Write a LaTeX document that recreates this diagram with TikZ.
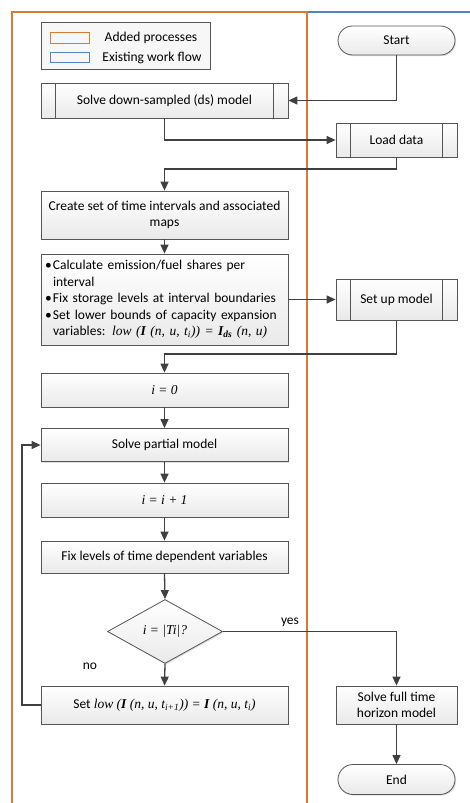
\documentclass[tikz,border=0pt]{standalone}
\usepackage{fontspec}
\setmainfont{Carlito}
\newfontfamily\tms{Liberation Serif}
\usetikzlibrary{arrows.meta,shapes.geometric,shapes.misc,shadows}
\definecolor{addorange}{RGB}{214,124,52}
\definecolor{flowblue}{RGB}{84,132,196}
\definecolor{edgegray}{RGB}{85,85,85}
\definecolor{linegray}{RGB}{64,64,64}
\newcommand{\mth}[1]{{\tms\itshape #1}}
\begin{document}
\begin{tikzpicture}[x=1pt,y=-1pt,
  font=\fontsize{13.5}{16.5}\selectfont,
  boxbase/.style={draw=edgegray, line width=0.8pt, top color=white, bottom color=gray!17,
    drop shadow={opacity=0.25, shadow xshift=1.2pt, shadow yshift=-1.2pt}},
  widebox/.style={boxbase, rectangle, minimum width=247pt, inner sep=2pt, align=center},
  sidebox/.style={boxbase, rectangle, minimum width=121pt, inner sep=2pt, align=center},
  termbox/.style={boxbase, rounded rectangle, minimum width=121pt, minimum height=29pt, inner sep=2pt},
  decbox/.style={boxbase, diamond, minimum width=115pt, minimum height=64pt, inner sep=0pt, aspect=1.8},
  conn/.style={draw=linegray, line width=1.3pt, -{Triangle[length=9pt,width=8pt]}},
  lbl/.style={inner sep=0pt}
]
\useasboundingbox (0,0) rectangle (470,803);
% frames
\draw[addorange, line width=1.5pt] (12,803) -- (12,12) -- (307,12) -- (307,803);
\draw[flowblue, line width=1.5pt] (308,12) -- (470,12);
% legend
\node[draw=edgegray, line width=0.8pt, fill=gray!6, minimum width=169pt, minimum height=47pt] (legend) at (125.5,45.5) {};
\node[draw=addorange, line width=1pt, minimum width=39pt, minimum height=11pt, inner sep=0pt] (lgo) at (69.5,37.5) {};
\node[draw=flowblue, line width=1pt, minimum width=39pt, minimum height=10pt, inner sep=0pt] (lgb) at (69.5,57) {};
\node[lbl] (lgotxt) at (151,38) {Added processes};
\node[lbl] (lgbtxt) at (152,57.5) {Existing work flow};
% nodes
\node[termbox] (start) at (396.5,40.5) {Start};
\node[widebox, minimum height=35pt] (ds) at (164.5,100.5) {Solve down-sampled (ds) model};
\draw[edgegray, line width=0.8pt] ([xshift=15pt]ds.north west) -- ([xshift=15pt]ds.south west)
  ([xshift=-15pt]ds.north east) -- ([xshift=-15pt]ds.south east);
\node[sidebox, minimum height=34pt] (load) at (396.5,140) {Load data};
\draw[edgegray, line width=0.8pt] ([xshift=15pt]load.north west) -- ([xshift=15pt]load.south west)
  ([xshift=-15pt]load.north east) -- ([xshift=-15pt]load.south east);
\node[widebox, minimum height=48pt] (create) at (164.5,215) {Create set of time intervals and associated\\ maps};
\node[widebox, minimum height=91pt, text width=239pt, inner xsep=4pt, align=left] (bul) at (164.5,299.5) {%
\makebox[8pt][l]{\textbullet}Calculate emission/fuel shares per\\
\hspace*{8pt}interval\\
\makebox[8pt][l]{\textbullet}Fix storage levels at interval boundaries\\
\makebox[8pt][l]{\textbullet}Set lower bounds of capacity expansion\\
\hspace*{8pt}variables: \mth{low (\textbf{I} (n, u, t\textsubscript{i})) = \textbf{I\textsubscript{ds}} (n, u)}};
\node[sidebox, minimum height=41pt] (setup) at (396.5,299.5) {Set up model};
\draw[edgegray, line width=0.8pt] ([xshift=15pt]setup.north west) -- ([xshift=15pt]setup.south west)
  ([xshift=-15pt]setup.north east) -- ([xshift=-15pt]setup.south east);
\node[widebox, minimum height=34pt] (izero) at (164.5,390) {\mth{i = 0}};
\node[widebox, minimum height=33pt] (partial) at (164.5,445) {Solve partial model};
\node[widebox, minimum height=34pt] (inc) at (164.5,500) {\mth{i = i + 1}};
\node[widebox, minimum height=32pt] (fix) at (164.5,557) {Fix levels of time dependent variables};
\node[decbox] (dec) at (165,631.5) {\mth{i = |Ti|?}};
\node[widebox, minimum height=38pt] (setlow) at (164.5,705) {Set \mth{low (\textbf{I} (n, u, t\textsubscript{i+1})) = \textbf{I} (n, u, t\textsubscript{i})}};
\node[sidebox, minimum height=38pt] (full) at (396.5,705) {Solve full time\\ horizon model};
\node[termbox, minimum height=30pt] (end) at (396.5,779.5) {End};
% labels
\node[lbl] (yes) at (290,622) {yes};
\node[lbl] (no) at (90,666) {no};
% connectors
\coordinate (j1) at (396.5,169);
\coordinate (j2) at (396.5,354);
\coordinate (j3) at (22,705);
\draw[conn] (start.south) |- (ds.east);
\draw[conn] (ds.south) |- (load.west);
\draw[conn] (load.south) -- (j1) -| (create.north);
\draw[conn] (create.south) -- (bul.north);
\draw[conn] (bul.east) -- (setup.west);
\draw[conn] (setup.south) -- (j2) -| (izero.north);
\draw[conn] (izero.south) -- (partial.north);
\draw[conn] (partial.south) -- (inc.north);
\draw[conn] (inc.south) -- (fix.north);
\draw[conn] (fix.south) -- (dec.north);
\draw[conn] (dec.south) -- (setlow.north);
\draw[conn] (dec.east) -| (full.north);
\draw[conn] (setlow.west) -- (j3) |- (partial.west);
\draw[conn] (full.south) -- (end.north);
\end{tikzpicture}
\end{document}
